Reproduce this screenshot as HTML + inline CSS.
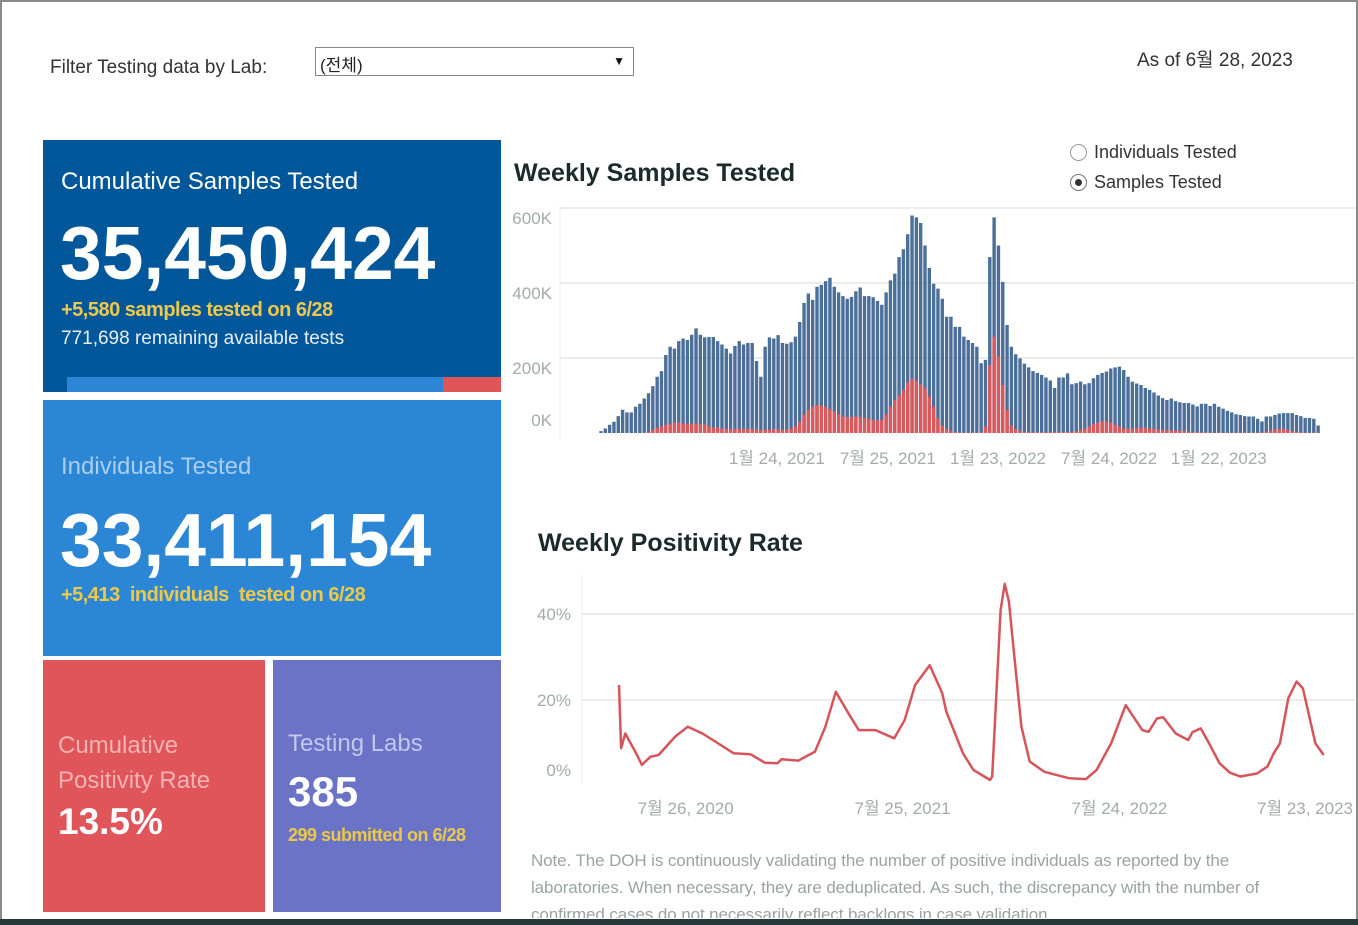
<!DOCTYPE html>
<html><head><meta charset="utf-8">
<style>
*{margin:0;padding:0;box-sizing:border-box}
body{width:1358px;height:925px;overflow:hidden;background:#fff;font-family:"Liberation Sans","Noto Sans CJK KR",sans-serif;position:relative}
.abs{position:absolute;white-space:nowrap}
#frame{position:absolute;left:0;top:0;width:1358px;height:925px;border:2px solid #8a8a8a;border-bottom:none}
#bottombar{position:absolute;left:0;top:919px;width:1358px;height:6px;background:#26393a}
.panel{position:absolute}
</style></head>
<body>
<div id="frame"></div>
<div class="abs" style="left:50px;top:57px;font-size:19px;color:#333">Filter Testing data by Lab:</div>
<div class="abs" style="left:315px;top:47px;width:319px;height:29px;border:1px solid #888;background:#fff">
  <span style="position:absolute;left:4px;top:3px;font-size:17px;color:#222">(전체)</span>
  <span style="position:absolute;right:8px;top:6px;font-size:12px;color:#111">▼</span>
</div>
<div class="abs" style="left:1137px;top:45px;font-size:19px;color:#333">As of 6월 28, 2023</div>

<div class="panel" style="left:43px;top:140px;width:458px;height:252px;background:#02579b">
  <div class="abs" style="left:18px;top:28px;font-size:24px;color:#fff">Cumulative Samples Tested</div>
  <div class="abs" style="left:17px;top:70px;font-size:75px;font-weight:bold;color:#fff">35,450,424</div>
  <div class="abs" style="left:18px;top:159px;font-size:20px;font-weight:bold;color:#ecc94b;letter-spacing:-0.5px">+5,580 samples tested on 6/28</div>
  <div class="abs" style="left:18px;top:188px;font-size:19px;color:#e6eef6">771,698 remaining available tests</div>
  <div class="abs" style="left:24px;top:237px;width:376px;height:15px;background:#2d86d5"></div>
  <div class="abs" style="left:400px;top:237px;width:58px;height:15px;background:#df5558"></div>
</div>
<div class="panel" style="left:43px;top:400px;width:458px;height:256px;background:#2b87d6">
  <div class="abs" style="left:18px;top:53px;font-size:24px;color:#a9cdef">Individuals Tested</div>
  <div class="abs" style="left:17px;top:97px;font-size:75px;font-weight:bold;color:#fff">33,411,154</div>
  <div class="abs" style="left:18px;top:184px;font-size:20px;font-weight:bold;color:#ecc94b;letter-spacing:-0.5px">+5,413 &nbsp;individuals &nbsp;tested on 6/28</div>
</div>
<div class="panel" style="left:43px;top:660px;width:222px;height:252px;background:#e0555a">
  <div class="abs" style="left:15px;top:68px;font-size:24px;line-height:35px;color:#f4b2b3;white-space:normal;width:200px">Cumulative Positivity Rate</div>
  <div class="abs" style="left:15px;top:141px;font-size:37px;font-weight:bold;color:#fff">13.5%</div>
</div>
<div class="panel" style="left:273px;top:660px;width:228px;height:252px;background:#6a73c6">
  <div class="abs" style="left:15px;top:70px;font-size:24px;color:#c3c8ee">Testing Labs</div>
  <div class="abs" style="left:15px;top:108px;font-size:42px;font-weight:bold;color:#fff">385</div>
  <div class="abs" style="left:15px;top:165px;font-size:18px;font-weight:bold;color:#e9c84a;letter-spacing:-0.5px">299 submitted on 6/28</div>
</div>

<div class="abs" style="left:514px;top:159px;font-size:25px;font-weight:bold;color:#1b2a2a">Weekly Samples Tested</div>
<div class="abs" style="left:1070px;top:142px;font-size:18px;color:#333"><span style="display:inline-block;width:17px;height:17px;border:1px solid #999;border-radius:50%;vertical-align:-3px;margin-right:7px"></span>Individuals Tested</div>
<div class="abs" style="left:1070px;top:172px;font-size:18px;color:#333"><span style="display:inline-block;width:17px;height:17px;border:1px solid #777;border-radius:50%;vertical-align:-3px;margin-right:7px;position:relative"><span style="position:absolute;left:4px;top:4px;width:7px;height:7px;border-radius:50%;background:#333"></span></span>Samples Tested</div>

<div class="abs" style="left:538px;top:529px;font-size:25px;font-weight:bold;color:#1b2a2a">Weekly Positivity Rate</div>

<svg id="charts" width="1358" height="925" style="position:absolute;left:0;top:0"></svg>

<div class="abs" style="left:531px;top:847px;font-size:17px;line-height:27px;color:#9aa3a3;white-space:normal;width:790px;height:71px;overflow:hidden;letter-spacing:-0.1px">Note. The DOH is continuously validating the number of positive individuals as reported by the laboratories. When necessary, they are deduplicated. As such, the discrepancy with the number of confirmed cases do not necessarily reflect backlogs in case validation.</div>
<div id="bottombar"></div>

<script>
const samplesK = [5,12,22,30,45,62,55,55,70,78,92,106,
125,150,165,208,230,225,245,252,248,262,279,262,
255,256,256,245,236,225,212,232,245,236,240,240,
192,150,230,255,252,261,240,238,242,257,296,347,
372,355,390,395,405,414,390,375,365,358,363,378,
388,365,365,362,352,342,375,407,425,469,490,530,
580,575,560,500,440,398,385,358,310,310,283,283,
257,248,240,230,186,195,469,575,500,403,288,230,
210,199,185,175,165,160,155,148,140,120,148,148,
159,130,133,137,130,133,146,155,160,164,172,175,
177,168,150,137,132,128,120,115,108,100,93,88,
92,85,82,80,80,76,71,78,78,72,78,70,
65,59,55,50,48,45,44,44,38,31,44,44,
48,52,53,53,53,48,45,40,40,38,20];
const positivesK = [0,0,0,0,0,0,0,0,0,0,1,3,
9,14,18,22,25,28,28,25,25,25,25,24,
24,18,15,15,12,11,11,11,11,11,11,11,
10,8,9,9,11,9,9,10,12,18,30,49,
62,71,75,73,70,64,58,50,44,42,42,44,
42,40,38,35,35,35,49,70,88,100,115,135,
146,140,130,119,97,70,40,20,12,5,2,1,
1,1,1,1,2,18,181,257,204,128,62,20,
11,5,3,2,2,2,2,2,2,2,2,3,
3,3,5,9,12,18,24,28,31,31,28,22,
17,12,12,12,13,14,14,12,11,10,8,7,
7,7,7,5,3,2,2,2,2,1,1,1,
1,1,1,1,1,1,1,1,1,2,4,7,
9,11,11,8,5,3,2,1,1,1,1];
const barYTicks = [0,200,400,600];
const barYTickLabels = ["0K","200K","400K","600K"];
const barXTickWeeks = [40.7,66.4,91.9,117.6,143];
const barXTickLabels = ["1월 24, 2021","7월 25, 2021","1월 23, 2022","7월 24, 2022","1월 22, 2023"];

const rateWeeks = [0,0.5,1.5,4,5.5,7.5,9.5,13.5,16.5,20,22.5,27.5,31.5,35,38,39,43,47,49.5,52,55,57.5,61.5,66,68.5,71,74.5,77.5,78.5,82.5,85,89,89.5,91.5,92.5,93.5,94.5,96.5,98.5,102,108,112,114.5,118,121.5,125.5,127,129,130.5,133.5,136.5,137.5,139.5,141.5,144,146.5,149,153,155.5,157,158.5,160.5,162.5,164,167,169];
const rateValues = [23.5,8.8,12.2,7.8,4.9,6.8,7.2,11.5,13.8,12.2,10.7,7.6,7.4,5.4,5.3,6.2,5.9,8,13.8,21.9,16.9,13,13,11.1,15.3,23.5,28.1,21.6,17.3,7.6,3.7,1.4,2.2,40.9,47,42.9,33,13.8,5.7,3.3,1.8,1.6,3.7,9.9,18.8,13,12.6,15.7,16,12.2,10.7,12.5,13.4,9.9,5.3,3.1,2.2,2.9,4.5,7.6,9.9,20.4,24.3,22.7,9.9,7.2];
const rateYTicks = [0,20,40];
const rateYTickLabels = ["0%","20%","40%"];
const rateXTickWeeks = [16,68,120,172];
const rateXTickLabels = ["7월 26, 2020","7월 25, 2021","7월 24, 2022","7월 23, 2023"];

const NS="http://www.w3.org/2000/svg";
const svg=document.getElementById('charts');
function mk(tag,attrs,parent){const e=document.createElementNS(NS,tag);for(const k in attrs)e.setAttribute(k,attrs[k]);(parent||svg).appendChild(e);return e;}

const bx = w => 601 + w*4.32;
const by = v => 433 - v*0.375;
const barG = mk('g',{});


mk('line',{x1:560,y1:207,x2:560,y2:440,stroke:'#eee'},barG);
barYTicks.forEach((t,i)=>{
  if(t>0){const g=mk('line',{x1:560,x2:1355,y1:by(t),y2:by(t),stroke:'#e6e6e6','stroke-width':1.5},barG);
  
  }
  const tx=mk('text',{x:552,y:by(t)+(t===0?-7:16),'text-anchor':'end','font-size':17,fill:'#a3abab'},barG);
  tx.textContent=barYTickLabels[i];
  
  
});
samplesK.forEach((v,i)=>{
  const r=mk('rect',{x:bx(i)-1.7,y:by(v),width:3.4,height:433-by(v),fill:'#4b6f99'},barG);
  
  
});
positivesK.forEach((v,i)=>{
  if(v<=0)return;
  const r=mk('rect',{x:bx(i)-1.7,y:by(v),width:3.4,height:433-by(v),fill:'#d9595c'},barG);
  
  
});
barXTickWeeks.forEach((w,i)=>{
  const tx=mk('text',{x:bx(w),y:464,'text-anchor':'middle','font-size':17,fill:'#a3abab'},barG);
  tx.textContent=barXTickLabels[i];
  
  
});

const lx = w => 619 + w*4.17;
const ly = v => 786 - v*4.3;
const lineG = mk('g',{});


mk('line',{x1:582,y1:575,x2:582,y2:784,stroke:'#eee'},lineG);
rateYTicks.forEach((t,i)=>{
  if(t>0){const g=mk('line',{x1:582,x2:1355,y1:ly(t),y2:ly(t),stroke:'#e6e6e6','stroke-width':1.5},lineG);
  
  }
  const tx=mk('text',{x:571,y:ly(t)+(t===0?-10:6),'text-anchor':'end','font-size':17,fill:'#a3abab'},lineG);
  tx.textContent=rateYTickLabels[i];
  
  
});
const pts=rateWeeks.map((w,i)=>lx(w).toFixed(1)+','+ly(rateValues[i]).toFixed(1)).join(' ');
const pl=mk('polyline',{points:pts,fill:'none',stroke:'#d6545a','stroke-width':2.5,'stroke-linejoin':'round'},lineG);


rateXTickWeeks.forEach((w,i)=>{
  let x=lx(w); if(x>1305)x=1305;
  const tx=mk('text',{x:x,y:814,'text-anchor':'middle','font-size':17,fill:'#a3abab'},lineG);
  tx.textContent=rateXTickLabels[i];
  
  
});
</script>
</body></html>
